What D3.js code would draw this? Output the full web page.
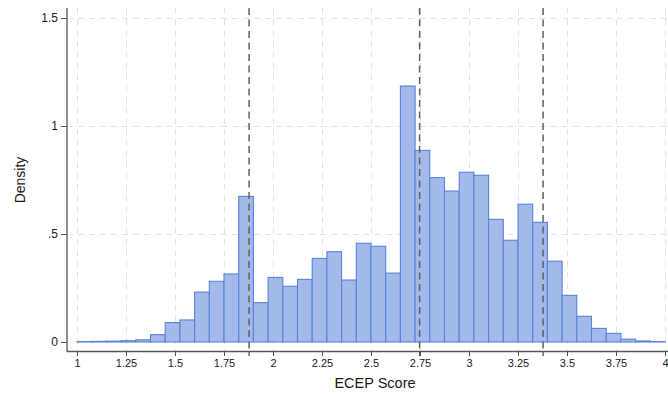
<!DOCTYPE html>
<html>
<head>
<meta charset="utf-8">
<script src="https://cdn.jsdelivr.net/npm/d3@7"></script>
<style>
  html, body { margin: 0; padding: 0; background: #fff; }
  svg { display: block; font-family: "Liberation Sans", Arial, sans-serif; }
</style>
</head>
<body>
<svg id="chart" width="668" height="394"></svg>
<script>
// Histogram of ECEP scores: lower bin edges (width 0.075) and densities
const binWidth = 0.075;
const binStarts = [
  1.000, 1.075, 1.150, 1.225, 1.300, 1.375, 1.450, 1.525, 1.600, 1.675,
  1.750, 1.825, 1.900, 1.975, 2.050, 2.125, 2.200, 2.275, 2.350, 2.425,
  2.500, 2.575, 2.650, 2.725, 2.800, 2.875, 2.950, 3.025, 3.100, 3.175,
  3.250, 3.325, 3.400, 3.475, 3.550, 3.625, 3.700, 3.775, 3.850, 3.925
];
const densities = [
  0.002, 0.003, 0.004, 0.006, 0.010, 0.034, 0.090, 0.102, 0.231, 0.281,
  0.315, 0.674, 0.182, 0.299, 0.258, 0.290, 0.387, 0.418, 0.287, 0.457,
  0.443, 0.319, 1.185, 0.887, 0.761, 0.699, 0.786, 0.772, 0.568, 0.471,
  0.638, 0.554, 0.374, 0.216, 0.119, 0.063, 0.040, 0.013, 0.005, 0.002
];
// Reference lines
const refLines = [1.878, 2.748, 3.378];

// Tick values and labels
const xTicks = [1, 1.25, 1.5, 1.75, 2, 2.25, 2.5, 2.75, 3, 3.25, 3.5, 3.75, 4];
const xTickLabels = ["1", "1.25", "1.5", "1.75", "2", "2.25", "2.5", "2.75", "3", "3.25", "3.5", "3.75", "4"];
const yTicks = [0, 0.5, 1, 1.5];
const yTickLabels = ["0", ".5", "1", "1.5"];

const xTitle = "ECEP Score";
const yTitle = "Density";

const svg = d3.select("#chart");

const plotLeft = 67, plotRight = 668, plotTop = 8, plotBottom = 351;

const x = d3.scaleLinear().domain([1, 4]).range([77, 665]);
const y = d3.scaleLinear().domain([0, 1.5]).range([342, 18]);

// Grid lines
const grid = svg.append("g").attr("class", "grid")
  .attr("stroke", "#e3e3e3").attr("stroke-width", 1)
  .attr("stroke-dasharray", "6,5").attr("fill", "none");
grid.selectAll("line.v").data(xTicks).join("line")
  .attr("class", "v")
  .attr("x1", d => Math.round(x(d)) + 0.5).attr("x2", d => Math.round(x(d)) + 0.5)
  .attr("y1", plotTop).attr("y2", plotBottom);
grid.selectAll("line.h").data(yTicks.filter(d => d > 0)).join("line")
  .attr("class", "h")
  .attr("x1", plotLeft).attr("x2", plotRight)
  .attr("y1", d => Math.round(y(d)) + 0.5).attr("y2", d => Math.round(y(d)) + 0.5);

// Bars
const bins = binStarts.map((s, i) => ({ x0: s, x1: s + binWidth, d: densities[i] }));
svg.append("g").attr("class", "bars")
  .selectAll("rect").data(bins).join("rect")
  .attr("x", b => x(b.x0))
  .attr("width", b => x(b.x1) - x(b.x0))
  .attr("y", b => y(b.d))
  .attr("height", b => y(0) - y(b.d))
  .attr("fill", "#a2b9e9")
  .attr("stroke", "#5a83da")
  .attr("stroke-width", 1.1);

// Vertical dashed reference lines
const refs = svg.append("g").attr("class", "refs");
refs.selectAll("line.ref").data(refLines).join("line")
  .attr("class", "ref")
  .attr("x1", d => x(d)).attr("x2", d => x(d))
  .attr("y1", plotTop).attr("y2", plotBottom)
  .attr("stroke", "#606060").attr("stroke-width", 1.5)
  .attr("stroke-dasharray", "7,4.5");
refs.selectAll("line.reftick").data(refLines).join("line")
  .attr("class", "reftick")
  .attr("x1", d => x(d)).attr("x2", d => x(d))
  .attr("y1", plotBottom).attr("y2", plotBottom + 5)
  .attr("stroke", "#505050").attr("stroke-width", 1.3);

// Axes
const axisColor = "#555";
const xAxis = d3.axisBottom(x).tickValues(xTicks)
  .tickFormat((d, i) => xTickLabels[i]).tickSize(5).tickPadding(3);
const gx = svg.append("g").attr("transform", `translate(0,${plotBottom})`).call(xAxis);
gx.select(".domain").remove();
gx.append("line").attr("x1", plotLeft).attr("x2", plotRight).attr("y1", 0.5).attr("y2", 0.5)
  .attr("stroke", axisColor).attr("stroke-width", 1.3);

const yAxis = d3.axisLeft(y).tickValues(yTicks)
  .tickFormat((d, i) => yTickLabels[i]).tickSize(6).tickPadding(3);
const gy = svg.append("g").attr("transform", `translate(${plotLeft},0)`).call(yAxis);
gy.select(".domain").remove();
gy.append("line").attr("x1", 0).attr("x2", 0).attr("y1", plotTop).attr("y2", plotBottom + 0.5)
  .attr("stroke", axisColor).attr("stroke-width", 1.3);

[gx, gy].forEach(g => {
  g.selectAll(".tick line").attr("stroke", axisColor).attr("stroke-width", 1);
  g.selectAll(".tick text").attr("fill", "#1a1a1a")
    .style("font-family", "'Liberation Sans', Arial, sans-serif").style("font-size", "11px");
});
gy.selectAll(".tick text").style("font-size", "12px");

// Axis titles
svg.append("text")
  .attr("x", 375).attr("y", 388)
  .attr("text-anchor", "middle")
  .attr("fill", "#1a1a1a").style("font-size", "14.5px")
  .text(xTitle);
svg.append("text")
  .attr("transform", "translate(24.5,180) rotate(-90)")
  .attr("text-anchor", "middle")
  .attr("fill", "#1a1a1a").style("font-size", "14px")
  .text(yTitle);
</script>
</body>
</html>
